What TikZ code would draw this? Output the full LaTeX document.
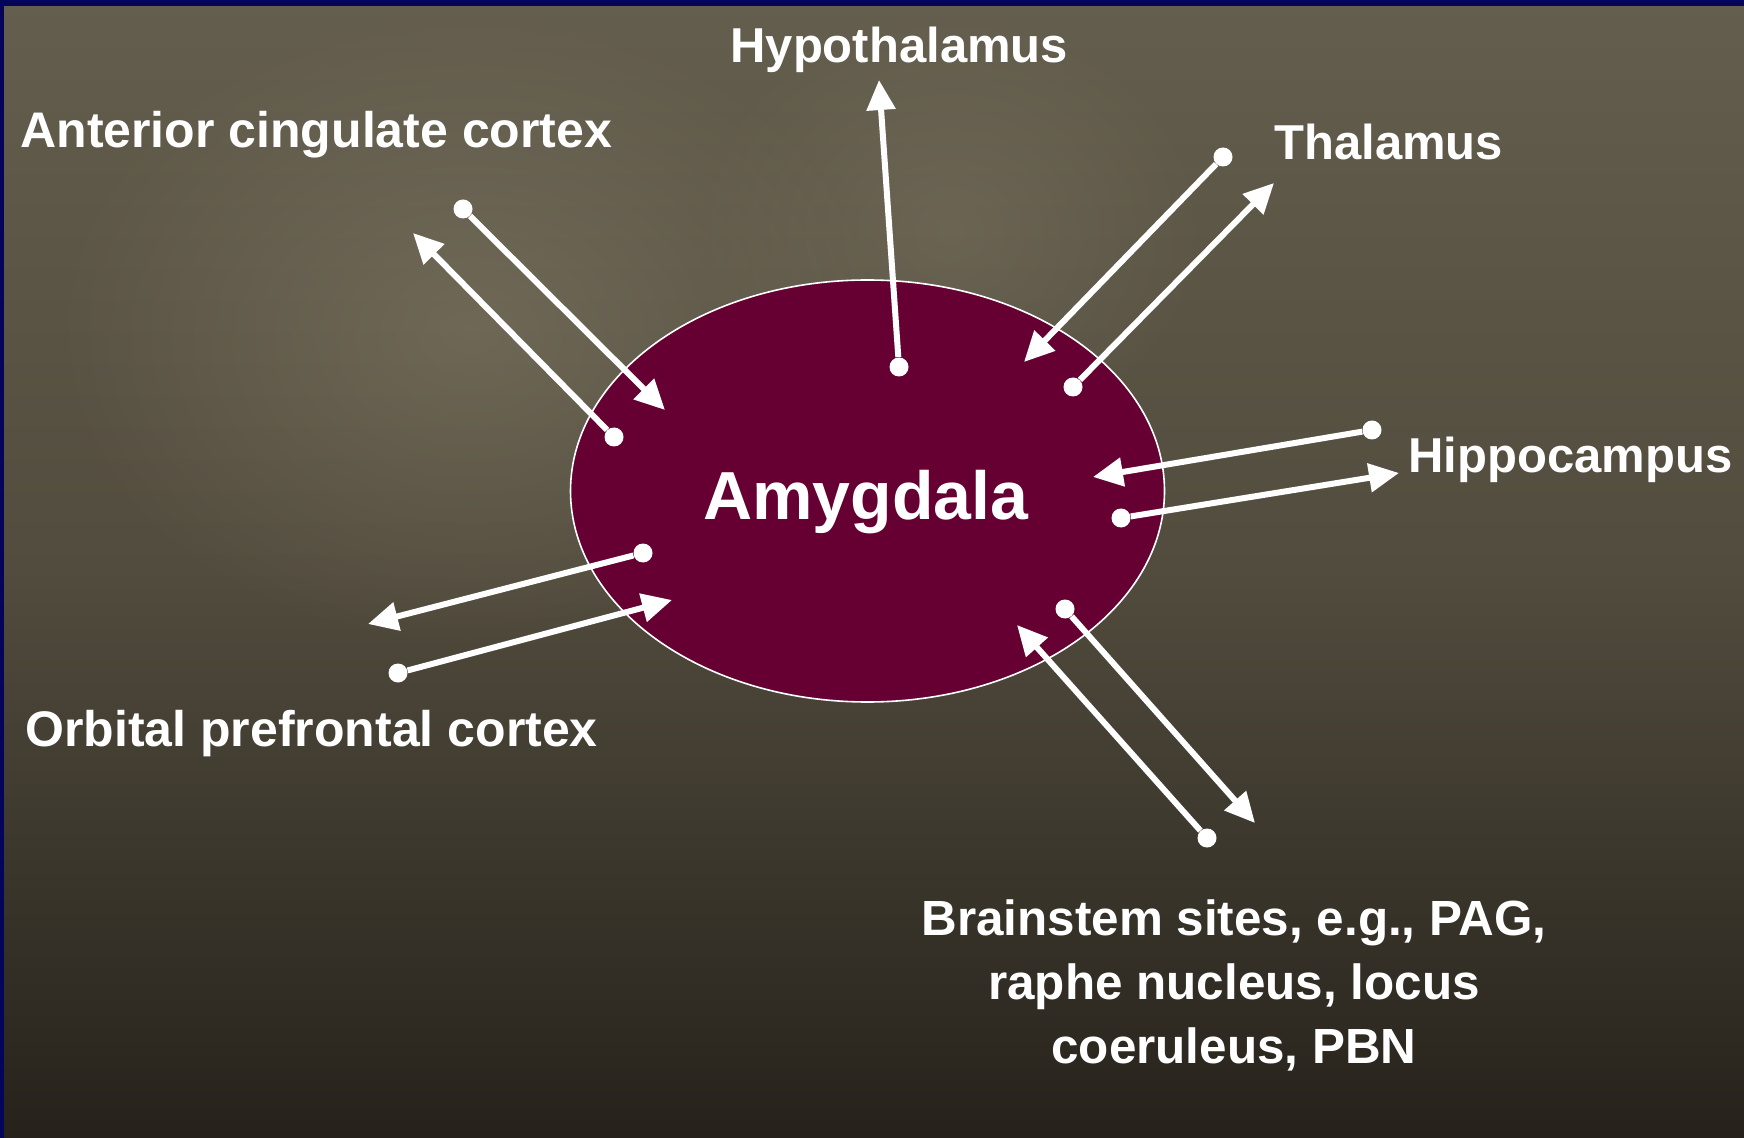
\documentclass[tikz,border=0pt]{standalone}
\usepackage{fontspec}
\setmainfont{Liberation Sans}
\usetikzlibrary{arrows.meta,shapes.geometric,fadings}
\tikzfading[name=softglow, inner color=transparent!0, outer color=transparent!100]
\definecolor{navyb}{RGB}{4,4,90}
\definecolor{bgtop}{RGB}{100,94,78}
\definecolor{bgmid}{RGB}{82,76,62}
\definecolor{bgbot}{RGB}{38,34,27}
\definecolor{bglight}{RGB}{150,142,120}
\definecolor{amyfill}{RGB}{102,0,51}
\begin{document}
\begin{tikzpicture}[x=0.5pt,y=-0.5pt,
  lbl/.style={text=white, font=\bfseries\fontsize{24.5}{31}\selectfont, inner sep=0pt, anchor=base west},
  lblw/.style={lbl, font=\bfseries\fontsize{25}{31}\selectfont},
  dot/.style={circle, fill=white, inner sep=0pt, minimum size=9.5pt},
  conn/.style={draw=white, line width=3pt, -{Triangle[length=15pt,width=14pt]}},
  amy/.style={ellipse, draw=white!90, line width=0.8pt, fill=amyfill, inner sep=0pt, minimum width=297pt, minimum height=211pt}]
\useasboundingbox (0,0) rectangle (1744,1138);
% background
\shade[top color=bgtop, bottom color=bgbot, middle color=bgmid] (0,0) rectangle (1744,1138);
\fill[bglight, opacity=0.35, path fading=softglow] (470,330) ellipse (420 and 320);
\fill[bglight, opacity=0.25, path fading=softglow] (950,230) ellipse (260 and 220);
\fill[navyb] (0,0) rectangle (1744,6);
\fill[navyb] (0,0) rectangle (4,1138);
% amygdala
\node[amy] (amyg) at (867.5,491) {};
\node[text=white, font=\bfseries\fontsize{34}{40}\selectfont, inner sep=0pt, anchor=base west] (amytxt) at (703,519) {Amygdala};
% labels
\node[lbl] (hyp) at (730,63) {Hypothalamus};
\node[lblw] (acc) at (20,148) {Anterior cingulate cortex};
\node[lbl] (thal) at (1274,160) {Thalamus};
\node[lbl] (hipp) at (1408,473) {Hippocampus};
\node[lblw] (opfc) at (25,746) {Orbital prefrontal cortex};
\node[text=white, font=\bfseries\fontsize{24.7}{32}\selectfont, inner sep=0pt, align=center, anchor=north] (brain) at (1234,899) {Brainstem sites, e.g., PAG,\\raphe nucleus, locus\\coeruleus, PBN};
% dots
\node[dot] (accS1) at (463,209) {};
\node[dot] (accS2) at (614,437) {};
\node[dot] (hypS) at (899,367) {};
\node[dot] (thS1) at (1223,157) {};
\node[dot] (thS2) at (1073,387) {};
\node[dot] (hiS1) at (1372,430) {};
\node[dot] (hiS2) at (1121,518) {};
\node[dot] (opS1) at (643,553) {};
\node[dot] (opS2) at (398,673) {};
\node[dot] (brS1) at (1065,609) {};
\node[dot] (brS2) at (1207,838) {};
% tips
\coordinate (accT1) at (665,410);
\coordinate (accT2) at (413,233);
\coordinate (hypT) at (879,80);
\coordinate (thT1) at (1024,362);
\coordinate (thT2) at (1274,183);
\coordinate (hiT1) at (1093,477);
\coordinate (hiT2) at (1399,473);
\coordinate (opT1) at (368,624);
\coordinate (opT2) at (672,600);
\coordinate (brT1) at (1255,823);
\coordinate (brT2) at (1017,625);
% connectors
\draw[conn] (accS1) -- (accT1);
\draw[conn] (accS2) -- (accT2);
\draw[conn] (hypS) -- (hypT);
\draw[conn] (thS1) -- (thT1);
\draw[conn] (thS2) -- (thT2);
\draw[conn] (hiS1) -- (hiT1);
\draw[conn] (hiS2) -- (hiT2);
\draw[conn] (opS1) -- (opT1);
\draw[conn] (opS2) -- (opT2);
\draw[conn] (brS1) -- (brT1);
\draw[conn] (brS2) -- (brT2);
\end{tikzpicture}
\end{document}
